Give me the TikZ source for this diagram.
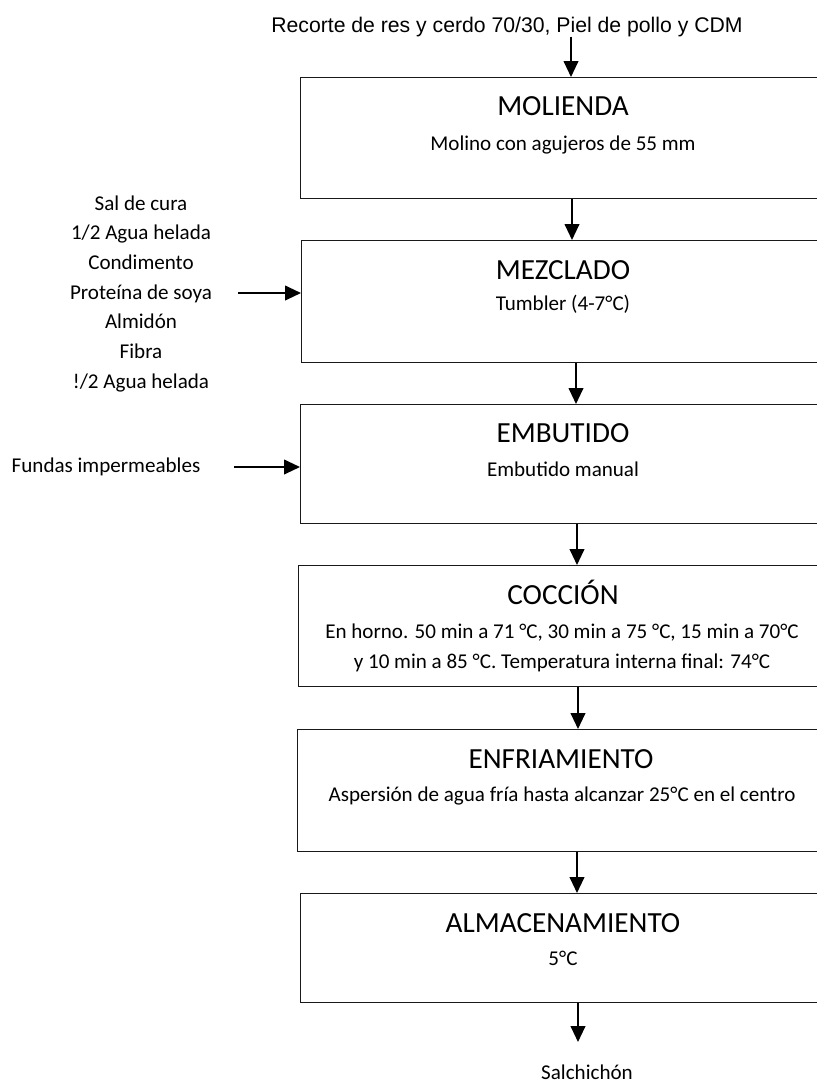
\documentclass[tikz,border=0pt]{standalone}
\usepackage{fontspec}
\setmainfont{Carlito}
\newfontfamily\arialf{Liberation Sans}
\usetikzlibrary{arrows.meta,calc}
\newcommand\mkbox[4]{\node[procbox, minimum width={(826-#2)*0.75pt}, minimum height={(#4-#3)*0.75pt}] (#1) at (#2,#3) {};}
\begin{document}
\begin{tikzpicture}[x=0.75pt,y=-0.75pt,
  procbox/.style={draw=black!90, line width=1pt, rectangle, anchor=north west, inner sep=0pt},
  ttl/.style={anchor=base, font=\fontsize{21.9}{26}\selectfont, inner sep=0pt},
  subt/.style={anchor=base, font=\fontsize{15.8}{22.3}\selectfont, inner sep=0pt},
  arialt/.style={anchor=base, font=\arialf\fontsize{15.9}{19}\selectfont, inner sep=0pt},
  arr/.style={-{Triangle[length=12pt,width=11pt]}, line width=1.5pt}]
\useasboundingbox (0,0) rectangle (817,1083);
\fill[white] (0,0) rectangle (817,1083);

% boxes
\mkbox{b1}{300}{77}{198}
\mkbox{b2}{301}{240}{362}
\mkbox{b3}{300}{404}{523}
\mkbox{b4}{298}{565}{686}
\mkbox{b5}{297}{729}{851}
\mkbox{b6}{300}{893}{1002}

% box texts
\node[ttl] (t1) at (563,115) {MOLIENDA};
\node[subt] (s1) at (563,150) {Molino con agujeros de 55 mm};
\node[ttl] (t2) at (563,279) {MEZCLADO};
\node[subt] (s2) at (563,310) {Tumbler (4-7°C)};
\node[ttl] (t3) at (563,442) {EMBUTIDO};
\node[subt] (s3) at (563,476) {Embutido manual};
\node[ttl] (t4) at (563,604) {COCCIÓN};
\node[subt] (s4a) at (562,638) {En horno. 50 min a 71 °C, 30 min a 75 °C, 15 min a 70°C};
\node[subt] (s4b) at (562,668) {y 10 min a 85 °C. Temperatura interna final: 74°C};
\node[ttl] (t5) at (561,768) {ENFRIAMIENTO};
\node[subt] (s5) at (562,801) {Aspersión de agua fría hasta alcanzar 25°C en el centro};
\node[ttl] (t6) at (563,932) {ALMACENAMIENTO};
\node[subt] (s6) at (563,965) {5°C};

% outside texts
\node[arialt] (top) at (507,32) {Recorte de res y cerdo 70/30, Piel de pollo y CDM};
\node[subt] (in1) at (141,210.0) {Sal de cura};
\node[subt] (in2) at (141,239.7) {1/2 Agua helada};
\node[subt] (in3) at (141,269.4) {Condimento};
\node[subt] (in4) at (141,299.1) {Proteína de soya};
\node[subt] (in5) at (141,328.8) {Almidón};
\node[subt] (in6) at (141,358.5) {Fibra};
\node[subt] (in7) at (141,388.2) {!/2 Agua helada};
\node[subt] (fun) at (106,472) {Fundas impermeables};
\node[subt] (fin) at (587,1079) {Salchichón};

% arrow coordinates
\coordinate (x0) at (571,0);
\coordinate (x1) at (572,0);
\coordinate (x2) at (576,0);
\coordinate (x3) at (577,0);
\coordinate (x4) at (578,0);
\coordinate (x5) at (577,0);
\coordinate (e6) at (578,1042);
\coordinate (l2) at (238,293);
\coordinate (l3) at (234,467);

\draw[arr] (top.south -| x0) -- (b1.north -| x0);
\draw[arr] (b1.south -| x1) -- (b2.north -| x1);
\draw[arr] (b2.south -| x2) -- (b3.north -| x2);
\draw[arr] (b3.south -| x3) -- (b4.north -| x3);
\draw[arr] (b4.south -| x4) -- (b5.north -| x4);
\draw[arr] (b5.south -| x5) -- (b6.north -| x5);
\draw[arr] (b6.south -| e6) -- (e6);
\draw[arr] (l2) -- (l2 -| b2.west);
\draw[arr] (l3) -- (l3 -| b3.west);
\end{tikzpicture}
\end{document}
